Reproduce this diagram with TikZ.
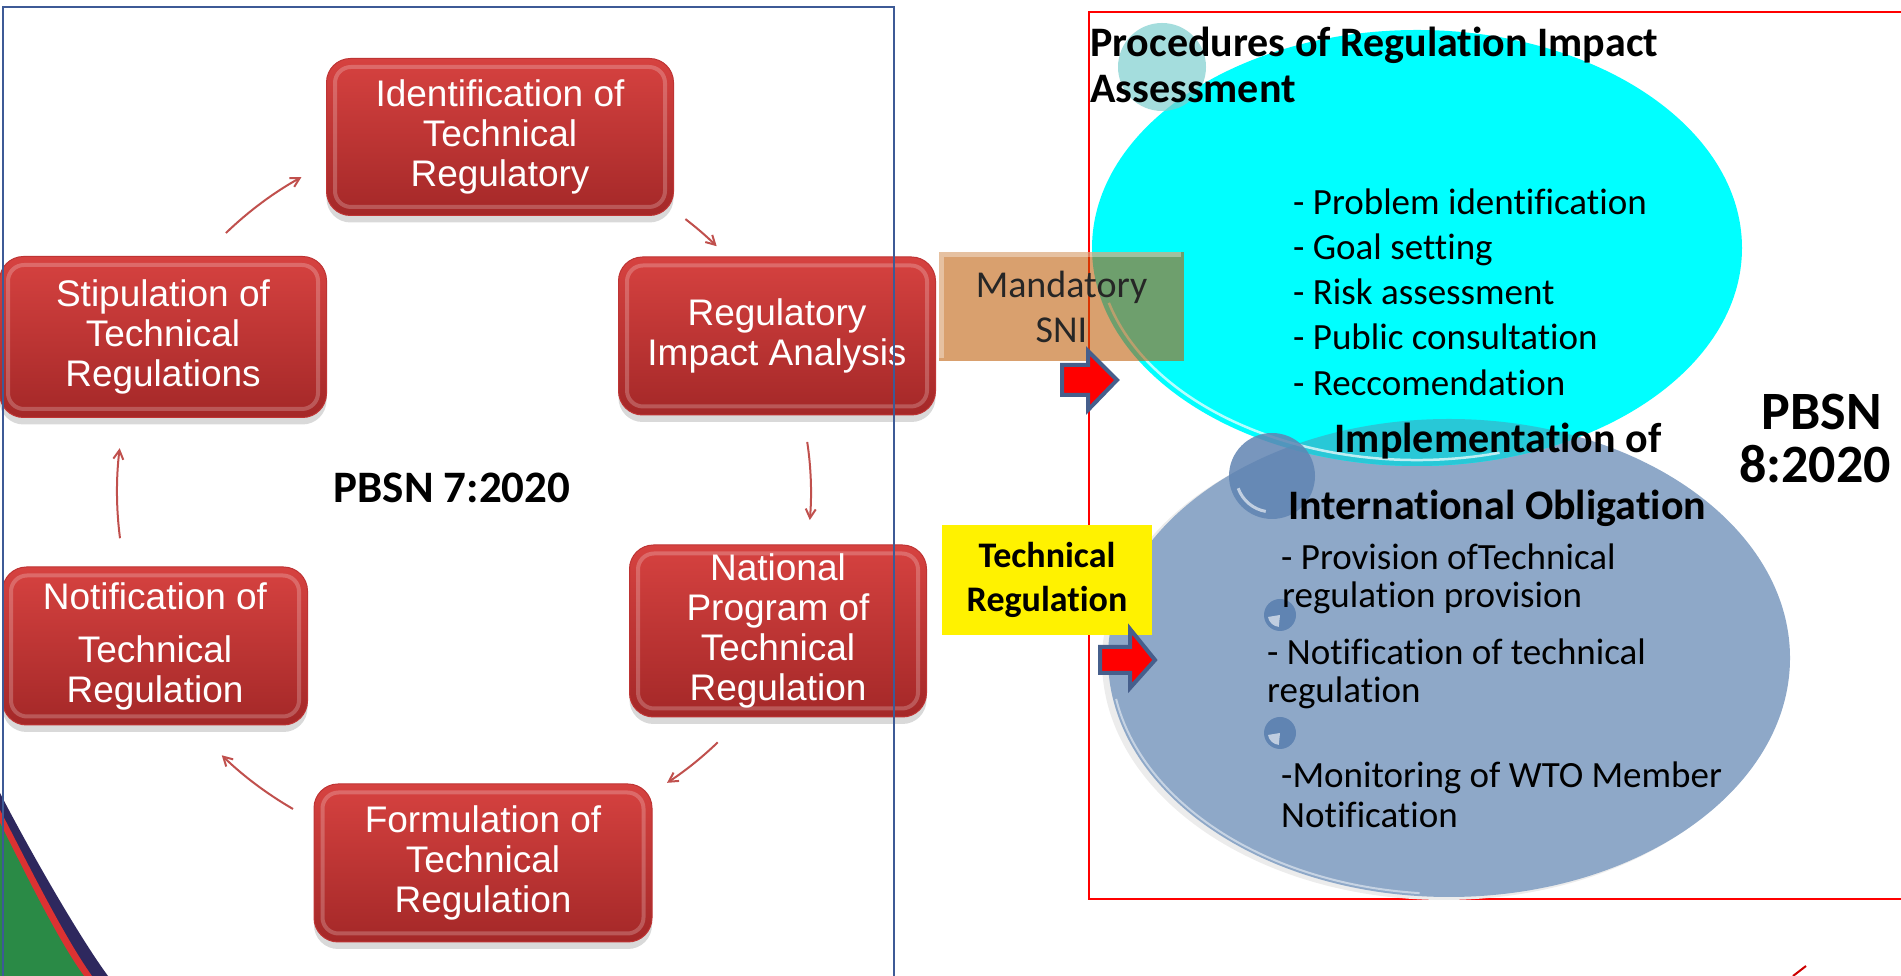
\documentclass[tikz,border=0pt]{standalone}
\usepackage{fontspec}
\setmainfont{Carlito}[Ligatures=NoCommon]
\newfontfamily\arialfont{Liberation Sans}
\usetikzlibrary{arrows.meta,shadows,calc}

\definecolor{stagetop}{RGB}{214,66,64}
\definecolor{stagebot}{RGB}{164,40,40}
\definecolor{stageline}{RGB}{190,52,52}
\definecolor{cycred}{RGB}{192,80,77}
\definecolor{frameblue}{RGB}{61,90,150}
\definecolor{sniorange}{RGB}{190,91,5}
\definecolor{bubcyan}{RGB}{0,255,255}
\definecolor{steelbub}{RGB}{142,168,200}
\definecolor{steeldark}{RGB}{96,132,178}
\definecolor{overlapteal}{RGB}{40,200,215}
\definecolor{arrowrim}{RGB}{70,95,140}
\definecolor{swnavy}{RGB}{46,40,94}
\definecolor{swred}{RGB}{220,50,50}
\definecolor{swgreen}{RGB}{42,138,70}

\tikzset{
  stage/.style={rectangle, rounded corners=24pt, inner sep=0pt,
    top color=stagetop, bottom color=stagebot, draw=stageline, line width=1pt,
    text=white, align=center, font=\arialfont\fontsize{37}{40}\selectfont,
    drop shadow={shadow xshift=0pt, shadow yshift=-7pt, opacity=.3}},
  cyc/.style={draw=cycred, line width=2pt, -{Straight Barb[length=9pt,width=10pt]}},
  blockarrow/.style={fill=red, draw=arrowrim, line width=4pt, line join=miter},
  bullet/.style={anchor=base west, inner sep=0pt, font=\fontsize{37}{45}\selectfont},
  heading/.style={inner sep=0pt, font=\bfseries\fontsize{42}{46}\selectfont},
}

\begin{document}
\begin{tikzpicture}[x=1pt, y=1pt]
  \useasboundingbox (0,0) rectangle (1901,976);

  % corner swoosh
  \fill[swnavy] (0,183) .. controls (22,140) and (75,45) .. (108,0) -- (0,0) -- cycle;
  \fill[swred] (0,166) .. controls (20,128) and (62,42) .. (92,0) -- (0,0) -- cycle;
  \fill[swgreen] (0,153) .. controls (18,118) and (56,38) .. (84,0) -- (0,0) -- cycle;

  % cycle of PBSN 7
  \node[stage, minimum width=347pt, minimum height=157pt] (ident) at (500,839) {Identification of\\Technical\\Regulatory};
  \node[stage, minimum width=317pt, minimum height=158pt] (ria) at (777,640) {Regulatory\\Impact Analysis};
  \node[stage, minimum width=297pt, minimum height=172pt] (natl) at (778,345) {National\\Program of\\Technical\\Regulation};
  \node[stage, minimum width=338pt, minimum height=158pt] (form) at (483,113) {Formulation of\\Technical\\Regulation};
  \node[stage, minimum width=305pt, minimum height=158pt] (notif) at (155,330) {Notification of\\[13pt]Technical\\Regulation};
  \node[stage, minimum width=327pt, minimum height=161pt] (stip) at (163,639) {Stipulation of\\Technical\\Regulations};

  \foreach \s in {ident,ria,natl,form,notif,stip}
    \draw[white, opacity=.22, line width=4pt, rounded corners=16pt]
      ([shift={(9pt,9pt)}]\s.south west) rectangle ([shift={(-9pt,-9pt)}]\s.north east);

  \coordinate (hub) at (476,484);
  \foreach \a/\b/\r in {134/119/360, 52.5/45.6/344, 8.6/-4.8/335, -46/-56.7/348, -120/-134/366, 187.4/173/359}
    \draw[cyc] ([shift={(\a:\r)}]hub) arc[start angle=\a, end angle=\b, radius=\r];

  \node[anchor=base, inner sep=0pt, font=\bfseries\fontsize{45}{50}\selectfont] (pbsnseven) at (452,473) {PBSN 7:2020};

  \draw[frameblue, line width=1.5pt] (3,-20) -- (3,969) -- (894,969) -- (894,-20);

  % PBSN 8 panel
  \draw[red, line width=2pt] (1960,77) -- (1089,77) -- (1089,964) -- (1960,964);

  \coordinate (bl) at (1449,318);
  \coordinate (cy) at (1417,728);
  \fill[gray!15] (1444,315) ellipse [x radius=342, y radius=239];
  \fill[steelbub] (bl) ellipse [x radius=341, y radius=239];
  \draw[white, opacity=.5, line width=2pt] ([shift={(190:338 and 236)}]bl) arc[start angle=190, end angle=265, x radius=338, y radius=236];
  \fill[bubcyan] (cy) ellipse [x radius=325, y radius=218];
  \begin{scope}
    \clip (bl) ellipse [x radius=341, y radius=239];
    \fill[overlapteal] (cy) ellipse [x radius=325, y radius=218];
  \end{scope}
  \draw[white, opacity=.7, line width=2.5pt] ([shift={(195:319 and 212)}]cy) arc[start angle=195, end angle=285, x radius=319, y radius=212];

  % bubbles
  \fill[bubcyan!45!gray!70, opacity=.7] (1162,909) circle (44);
  \fill[steeldark, opacity=.85] (1272,500) circle (43);
  \draw[white, opacity=.6, line width=3pt] ([shift={(200:36)}]1272,500) arc[start angle=200, end angle=260, radius=36];
  \foreach \y in {361,243} {
    \fill[steeldark] (1280,\y) circle (16);
    \fill[white, opacity=.6] (1280,\y) -- ++(-12,-2) arc[start angle=190, end angle=265, radius=12] -- cycle;
  }

  \node[heading, anchor=base west] (proctitle) at (1090,919) {Procedures of Regulation Impact};
  \node[heading, anchor=base west] (proctitletwo) at (1090,873) {Assessment};

  \foreach \y/\t [count=\i] in {761/Problem identification, 716/Goal setting, 671/Risk assessment, 626/Public consultation, 580/Reccomendation}
    \node[bullet] (ria\i) at (1293,\y) {- \t};

  \node[heading, anchor=base] (impltitle) at (1498,523) {Implementation of};
  \node[heading, anchor=base] (impltitletwo) at (1497,456) {International Obligation};

  \foreach \x/\y/\t [count=\i] in {1281/406/- Provision ofTechnical, 1282/368/regulation provision,
      1267/311/- Notification of technical, 1267/273/regulation,
      1281/188/-Monitoring of WTO Member, 1281/148/Notification}
    \node[bullet] (obl\i) at (\x,\y) {\t};

  \node[anchor=base, inner sep=0pt, font=\bfseries\fontsize{54}{60}\selectfont] (pbsneight) at (1822,546) {PBSN};
  \node[anchor=base, inner sep=0pt, font=\bfseries\fontsize{54}{60}\selectfont] (pbsneighttwo) at (1815,493) {8:2020};

  % labels between the panels
  \node[fill=sniorange, fill opacity=.58, text opacity=1, text=black!85, minimum width=245pt, minimum height=109pt,
    inner sep=0pt, align=center, font=\fontsize{38}{45}\selectfont] (sni) at (1061.5,669.5) {Mandatory\\SNI};
  \draw[white, opacity=.35, line width=5pt] ([shift={(3,3)}]sni.south west) -- ([shift={(3,-3)}]sni.north west) -- ([shift={(-3,-3)}]sni.north east);
  \draw[blockarrow] (1062,611) -- (1088,611) -- (1088,625) -- (1117,596) -- (1088,566) -- (1088,581) -- (1062,581) -- cycle;

  \node[fill=yellow, minimum width=210pt, minimum height=110pt, inner sep=0pt, align=center,
    font=\bfseries\fontsize{36}{44}\selectfont] (techreg) at (1047,396) {Technical\\Regulation};
  \draw[blockarrow] (1100,329) -- (1130,329) -- (1130,347) -- (1155,316) -- (1130,288) -- (1130,303) -- (1100,303) -- cycle;

  \draw[red!80!black, line width=2pt] (1793,0) -- (1806,10);
\end{tikzpicture}
\end{document}
